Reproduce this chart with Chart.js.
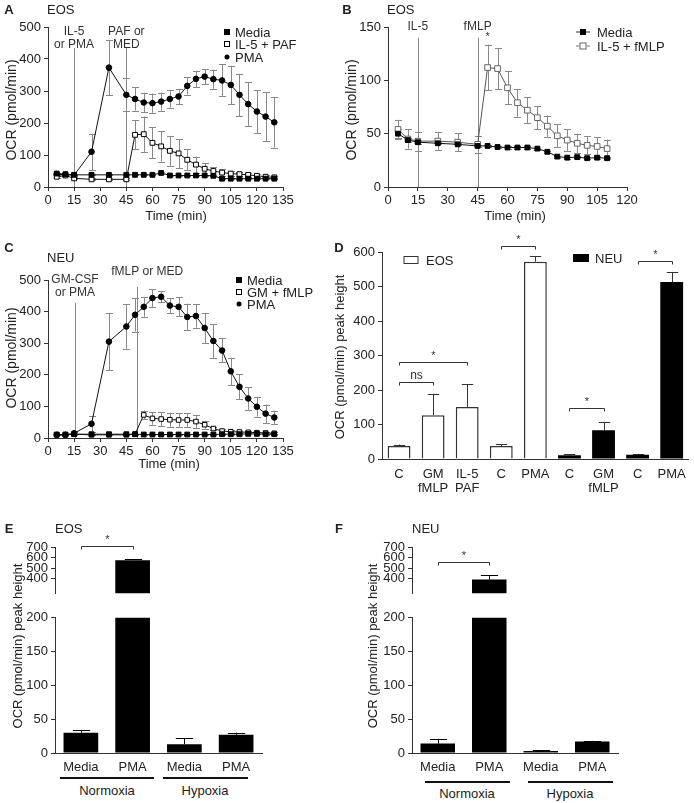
<!DOCTYPE html>
<html>
<head>
<meta charset="utf-8">
<script src="https://cdn.jsdelivr.net/npm/chart.js@4.4.1/dist/chart.umd.min.js"></script>
<style>
  body { margin: 0; background: #fff; }
  #fig { position: relative; width: 694px; height: 803px; overflow: hidden;
         font-family: "Liberation Sans", Arial, Helvetica, sans-serif; color: #222; }
  #fig canvas { position: absolute; }
  .t { position: absolute; font-size: 13px; line-height: 1; white-space: nowrap; transform: translate(-50%, -50%); }
  .l { transform: translate(0, -50%); }
  .b { font-weight: bold; }
  .yt { position: absolute; font-size: 14px; line-height: 14px; height: 14px; width: 200px; margin-left: -100px; margin-top: -7px;
        text-align: center; white-space: nowrap; transform: rotate(-90deg); }
  .m { position: absolute; box-sizing: border-box; transform: translate(-50%, -50%); }
  .fs { width: 6px; height: 6px; background: #000; }
  .os { width: 6px; height: 6px; border: 1px solid #000; background: #fff; }
  .gs { width: 7px; height: 7px; border: 1px solid #666; background: #fff; }
  .fc { width: 5px; height: 5px; border-radius: 50%; background: #000; }
  .ln { width: 14px; height: 1px; background: #333; }
  .bar { position: absolute; height: 2px; background: #111; }
</style>
</head>
<body>
<div id="fig">
  <canvas id="cA" width="300" height="210" style="left:0;top:0"></canvas>
  <canvas id="cB" width="290" height="210" style="left:350px;top:0"></canvas>
  <canvas id="cC" width="300" height="203" style="left:0;top:258px"></canvas>
  <canvas id="cD" width="354" height="275" style="left:340px;top:225px"></canvas>
  <canvas id="cEtop" width="275" height="84" style="left:0;top:520px"></canvas>
  <canvas id="cEbot" width="275" height="166" style="left:0;top:607px"></canvas>
  <canvas id="cFtop" width="280" height="84" style="left:352px;top:520px"></canvas>
  <canvas id="cFbot" width="280" height="166" style="left:352px;top:607px"></canvas>

  <!-- panel A -->
  <div class="t b" style="left:9px;top:9px">A</div>
  <div class="t l" style="left:47px;top:9px">EOS</div>
  <div class="yt" style="left:11px;top:110px">OCR (pmol/min)</div>
  <div class="t" style="left:176px;top:215px">Time (min)</div>
  <div class="m fs" style="left:227px;top:32px"></div><div class="t l" style="left:235px;top:32px">Media</div>
  <div class="m os" style="left:227px;top:44px"></div><div class="t l" style="left:235px;top:44px">IL-5 + PAF</div>
  <div class="m fc" style="left:227px;top:57px"></div><div class="t l" style="left:235px;top:57px">PMA</div>

  <!-- panel B -->
  <div class="t b" style="left:347px;top:9px">B</div>
  <div class="t l" style="left:387px;top:9px">EOS</div>
  <div class="yt" style="left:351px;top:110px">OCR (pmol/min)</div>
  <div class="t" style="left:515px;top:215px">Time (min)</div>
  <div class="m ln" style="left:583px;top:32px"></div><div class="m fs" style="left:583px;top:32px"></div>
  <div class="t l" style="left:597px;top:32px">Media</div>
  <div class="m ln" style="left:583px;top:46px;background:#777"></div><div class="m gs" style="left:583px;top:46px"></div>
  <div class="t l" style="left:597px;top:46px">IL-5 + fMLP</div>

  <!-- panel C -->
  <div class="t b" style="left:9px;top:247px">C</div>
  <div class="t l" style="left:47px;top:257px">NEU</div>
  <div class="yt" style="left:11px;top:358px">OCR (pmol/min)</div>
  <div class="t" style="left:169px;top:463px">Time (min)</div>
  <div class="m fs" style="left:239px;top:280px"></div><div class="t l" style="left:247px;top:280px">Media</div>
  <div class="m os" style="left:239px;top:292px"></div><div class="t l" style="left:247px;top:292px">GM + fMLP</div>
  <div class="m fc" style="left:239px;top:304px"></div><div class="t l" style="left:247px;top:304px">PMA</div>

  <!-- panel D -->
  <div class="t b" style="left:339px;top:247px">D</div>
  <div class="yt" style="left:340px;top:357px;font-size:13px">OCR (pmol/min) peak height</div>
  <div class="m" style="left:411px;top:260px;width:15px;height:8px;border:1px solid #333"></div>
  <div class="t l" style="left:426px;top:260px">EOS</div>
  <div class="m" style="left:581px;top:258px;width:16px;height:8px;background:#000"></div>
  <div class="t l" style="left:595px;top:258px">NEU</div>

  <!-- panel E -->
  <div class="t b" style="left:9px;top:528px">E</div>
  <div class="t l" style="left:55px;top:528px">EOS</div>
  <div class="yt" style="left:18px;top:646px;font-size:13px">OCR (pmol/min) peak height</div>
  <div class="bar" style="left:60px;top:777px;width:94px"></div>
  <div class="bar" style="left:163px;top:777px;width:85px"></div>
  <div class="t" style="left:107px;top:790px">Normoxia</div>
  <div class="t" style="left:205px;top:790px">Hypoxia</div>

  <!-- panel F -->
  <div class="t b" style="left:339px;top:528px">F</div>
  <div class="t l" style="left:412px;top:528px">NEU</div>
  <div class="yt" style="left:373px;top:646px;font-size:13px">OCR (pmol/min) peak height</div>
  <div class="bar" style="left:425px;top:781px;width:85px"></div>
  <div class="bar" style="left:528px;top:781px;width:85px"></div>
  <div class="t" style="left:467px;top:793px">Normoxia</div>
  <div class="t" style="left:570px;top:793px">Hypoxia</div>
</div>

<script>
  // ---- DATA ----
  // A: eosinophils, IL-5 / PMA then PAF
  const aTime = [5,10,15,25,35,45,50,55,60,65,70,75,80,85,90,95,100,105,110,115,120,125,130];
  const aMedia = [42,40,38,38,38,38,38,38,38,44,36,36,36,36,36,35,26,26,26,26,26,26,26];
  const aMediaErr = [3,2,2,2,2,2,2,2,2,2,2,2,2,2,2,2,2,2,2,2,2,2,2];
  const aPaf = [32,36,27,24,24,24,163,165,138,127,113,105,85,70,57,50,45,42,40,38,35,32,30];
  const aPafErr = [3,3,3,3,3,3,45,55,48,48,47,45,33,25,18,12,10,8,7,6,5,4,4];
  const aPma = [40,38,37,110,373,288,275,264,262,267,275,283,316,338,345,337,333,319,288,259,236,220,202];
  const aPmaErr = [2,2,2,57,86,52,36,31,30,28,27,24,27,25,23,30,50,60,66,68,67,76,79];

  // B: eosinophils, IL-5 then fMLP
  const bTime = [5,10,15,25,35,45,50,55,60,65,70,75,80,85,90,95,100,105,110];
  const bMedia = [50,44,42,41,40,38.5,38.5,37.5,37,37,37,36,33,28.5,27.5,28,27,27.5,27];
  const bMediaErr = [4,2,1.5,1,1,1,1,1,1,1,1,1,1,1,1,1,1,1,1];
  const bFmlp = [54,45,43,43,42,40,112,111,93,79,72,65,57,48,44,41,39,38,36];
  const bFmlpErr = [9,9,9,8.5,8.5,8,21.5,19.5,15.5,13,12,10.7,10,10.6,10,9,8.5,8.7,8.5];

  // C: neutrophils, GM-CSF / PMA then fMLP
  const cTime = [5,10,15,25,35,45,50,55,60,65,70,75,80,85,90,95,100,105,110,115,120,125,130];
  const cMedia = [11,11,12,12,12,12,12,11,11,11,11,11,11,11,11,11,12,12,12,13,13,12,12];
  const cMediaErr = [1,1,1,1,1,1,1,1,1,1,1,1,1,1,1,1,1,1,1,1,1,1,1];
  const cGm = [10,10,12,10,10,10,12,73,62,60,58,57,57,52,42,30,22,20,19,18,17,16,15];
  const cGmErr = [2,2,2,2,2,2,2,14,20,22,22,22,22,20,12,6,5,4,3,3,3,3,3];
  const cPma = [10,10,15,45,305,353,390,415,443,447,419,415,383,386,348,307,277,211,162,125,99,77,65];
  const cPmaErr = [2,2,3,25,90,70,53,31,28,18,23,30,42,37,47,53,38,43,39,36,31,29,22];

  // D: peak heights
  const dLabels = [['C'],['GM','fMLP'],['IL-5','PAF'],['C'],['PMA'],['C'],['GM','fMLP'],['C'],['PMA']];
  const dEos = [38,127,151,38,572,null,null,null,null];
  const dEosErr = [4,62,65,5,15,null,null,null,null];
  const dNeu = [null,null,null,null,null,11,83,12,513];
  const dNeuErr = [null,null,null,null,null,3,25,3,28];

  // E / F: normoxia vs hypoxia
  const hxLabels = ['Media','PMA','Media','PMA'];
  const eVals = [30,575,13,27];
  const eErr = [4,10,9,3];
  const fVals = [14,390,3,17];
  const fErr = [6,43,1,1];

  // ---- DEFAULTS ----
  Chart.defaults.font.family = '"Liberation Sans", Arial, Helvetica, sans-serif';
  Chart.defaults.font.size = 13;
  Chart.defaults.color = '#222';
  Chart.defaults.animation = false;
  Chart.defaults.plugins.legend.display = false;
  Chart.defaults.plugins.tooltip.enabled = false;

  // annotation config per canvas (vertical lines, text, brackets)
  const annots = {
    cA: {
      vlines: [{x: 15, y: 434}, {x: 45, y: 434}],
      texts: [
        {x: 15, y: 485, s: 'IL-5'}, {x: 15, y: 445, s: 'or PMA'},
        {x: 45, y: 485, s: 'PAF or'}, {x: 45, y: 445, s: 'MED'}
      ]
    },
    cB: {
      vlines: [{x: 15, y: 140}, {x: 45, y: 140}],
      texts: [{x: 15, y: 150, s: 'IL-5'}, {x: 45, y: 150, s: 'fMLP'}, {x: 50, y: 141, s: '*', size: 11}]
    },
    cC: {
      vlines: [{x: 15.5, y: 427}, {x: 51, y: 478}],
      texts: [
        {x: 15.5, y: 500, s: 'GM-CSF'}, {x: 15.5, y: 460, s: 'or PMA'},
        {x: 57, y: 525, s: 'fMLP or MED'}
      ]
    },
    cD: {
      brackets: [
        {a: 0, b: 2, y: 282, s: '*'}, {a: 0, b: 1, y: 223, s: 'ns'},
        {a: 3, b: 4, y: 618, s: '*'}, {a: 5, b: 6, y: 148, s: '*'}, {a: 7, b: 8, y: 574, s: '*'}
      ]
    },
    cEtop: { brackets: [{a: 0, b: 1, y: 710, s: '*'}] },
    cFtop: { brackets: [{a: 0, b: 1, y: 561, s: '*'}] }
  };

  // ---- PLUGIN: error bars + annotations ----
  const extras = {
    id: 'extras',
    beforeDatasetsDraw(chart) {
      const { ctx, chartArea: ca } = chart;
      const y = chart.scales.y, x = chart.scales.x;
      const an = annots[chart.canvas.id] || {};
      ctx.save();
      ctx.beginPath();
      ctx.rect(ca.left - 6, ca.top - 1, ca.right - ca.left + 12, ca.bottom - ca.top + 1);
      ctx.clip();
      ctx.lineWidth = 1;
      (an.vlines || []).forEach(v => {
        const px = Math.round(x.getPixelForValue(v.x)) + 0.5;
        ctx.strokeStyle = '#888';
        ctx.beginPath();
        ctx.moveTo(px, y.getPixelForValue(0));
        ctx.lineTo(px, y.getPixelForValue(v.y));
        ctx.stroke();
      });
      chart.data.datasets.forEach((ds, i) => {
        if (!ds.errs) return;
        const meta = chart.getDatasetMeta(i);
        ctx.strokeStyle = ds.errColor || '#000';
        meta.data.forEach((el, j) => {
          const raw = ds.data[j];
          const v = raw && typeof raw === 'object' ? raw.y : raw;
          const e = ds.errs[j];
          if (v == null || e == null) return;
          const px = Math.round(el.x) + 0.5;
          const hi = y.getPixelForValue(v + e);
          const lo = ds.errUp ? y.getPixelForValue(v) : y.getPixelForValue(v - e);
          const cw = ds.errUp ? el.width * 0.25 : 3.5;
          ctx.beginPath();
          ctx.moveTo(px, lo); ctx.lineTo(px, hi);
          ctx.moveTo(px - cw, Math.round(hi) + 0.5); ctx.lineTo(px + cw, Math.round(hi) + 0.5);
          if (!ds.errUp) { ctx.moveTo(px - cw, Math.round(lo) + 0.5); ctx.lineTo(px + cw, Math.round(lo) + 0.5); }
          ctx.stroke();
        });
      });
      ctx.restore();
    },
    afterDatasetsDraw(chart) {
      const { ctx } = chart;
      const y = chart.scales.y, x = chart.scales.x;
      const an = annots[chart.canvas.id] || {};
      ctx.save();
      ctx.textAlign = 'center';
      ctx.textBaseline = 'middle';
      (an.texts || []).forEach(t => {
        ctx.fillStyle = '#333';
        ctx.font = (t.size || 12) + 'px "Liberation Sans", Arial, sans-serif';
        ctx.fillText(t.s, x.getPixelForValue(t.x), y.getPixelForValue(t.y));
      });
      (an.brackets || []).forEach(b => {
        const x1 = Math.round(x.getPixelForValue(b.a)) + 0.5;
        const x2 = Math.round(x.getPixelForValue(b.b)) + 0.5;
        const py = Math.round(y.getPixelForValue(b.y)) + 0.5;
        ctx.strokeStyle = '#333';
        ctx.lineWidth = 1;
        ctx.beginPath();
        ctx.moveTo(x1, py + 3); ctx.lineTo(x1, py); ctx.lineTo(x2, py); ctx.lineTo(x2, py + 3);
        ctx.stroke();
        ctx.fillStyle = '#333';
        ctx.font = (b.s === 'ns' ? 12 : 11) + 'px "Liberation Sans", Arial, sans-serif';
        ctx.fillText(b.s, (x1 + x2) / 2, py - 7);
      });
      ctx.restore();
    }
  };
  Chart.register(extras);

  // ---- AXIS HELPERS ----
  function yAxis(min, max, step, w) {
    return {
      type: 'linear', min, max,
      ticks: { stepSize: step, padding: 3, color: '#222' },
      grid: { drawOnChartArea: false, tickLength: 4, color: '#333' },
      border: { color: '#333', width: 1 },
      afterFit: s => { s.width = w; }
    };
  }
  function xTime(max, h) {
    return {
      type: 'linear', min: 0, max,
      ticks: { stepSize: 15, autoSkip: false, maxRotation: 0, padding: 2, color: '#222' },
      grid: { drawOnChartArea: false, tickLength: 4, color: '#333' },
      border: { color: '#333', width: 1 },
      afterFit: s => { s.height = h; }
    };
  }
  function xCat(h, pad) {
    return {
      type: 'category',
      ticks: { autoSkip: false, maxRotation: 0, padding: pad, color: '#222', font: { lineHeight: 1.1 } },
      grid: { display: true, drawOnChartArea: false, drawTicks: false, color: '#333' },
      border: { color: '#333', width: 1 },
      afterFit: s => { s.height = h; }
    };
  }
  function series(xs, ys, errs, style) {
    return Object.assign({
      data: xs.map((t, i) => ({ x: t, y: ys[i] })),
      errs, errColor: '#888', showLine: true, borderWidth: 1, pointBorderWidth: 1,
      borderColor: '#111', pointBorderColor: '#000', pointBackgroundColor: '#000'
    }, style);
  }

  // ---- A ----
  new Chart(document.getElementById('cA'), {
    type: 'scatter',
    data: { datasets: [
      series(aTime, aMedia, aMediaErr, { pointStyle: 'rect', pointRadius: 3.4 }),
      series(aTime, aPaf, aPafErr, { pointStyle: 'rect', pointRadius: 3.4, pointBackgroundColor: '#fff' }),
      series(aTime, aPma, aPmaErr, { pointStyle: 'circle', pointRadius: 2.8 })
    ]},
    options: {
      responsive: false,
      layout: { padding: { top: 27, right: 17, left: 0, bottom: 0 } },
      scales: { x: xTime(135, 23), y: yAxis(0, 500, 100, 48) }
    }
  });

  // ---- B ----
  new Chart(document.getElementById('cB'), {
    type: 'scatter',
    data: { datasets: [
      series(bTime, bMedia, bMediaErr, { pointStyle: 'rect', pointRadius: 3.4 }),
      series(bTime, bFmlp, bFmlpErr, { pointStyle: 'rect', pointRadius: 4, pointBackgroundColor: '#fff',
        pointBorderColor: '#666', borderColor: '#555' })
    ]},
    options: {
      responsive: false,
      layout: { padding: { top: 27, right: 13, left: 0, bottom: 0 } },
      scales: { x: xTime(120, 23), y: yAxis(0, 150, 50, 38) }
    }
  });

  // ---- C ----
  new Chart(document.getElementById('cC'), {
    type: 'scatter',
    data: { datasets: [
      series(cTime, cMedia, cMediaErr, { pointStyle: 'rect', pointRadius: 3.4 }),
      series(cTime, cGm, cGmErr, { pointStyle: 'rect', pointRadius: 3.2, pointBackgroundColor: '#fff' }),
      series(cTime, cPma, cPmaErr, { pointStyle: 'circle', pointRadius: 2.8 })
    ]},
    options: {
      responsive: false,
      layout: { padding: { top: 22, right: 17, left: 0, bottom: 0 } },
      scales: { x: xTime(135, 23), y: yAxis(0, 500, 100, 48) }
    }
  });

  // ---- D ----
  new Chart(document.getElementById('cD'), {
    type: 'bar',
    data: {
      labels: dLabels,
      datasets: [
        { data: dEos, errs: dEosErr, errUp: true, errColor: '#333', backgroundColor: '#fff',
          borderColor: '#333', borderWidth: 1.5, barPercentage: 0.67, categoryPercentage: 1, clip: 0 },
        { data: dNeu, errs: dNeuErr, errUp: true, errColor: '#333', backgroundColor: '#000',
          borderColor: '#000', borderWidth: 0, barPercentage: 0.67, categoryPercentage: 1, clip: 0 }
      ]
    },
    options: {
      responsive: false,
      datasets: { bar: { grouped: false } },
      layout: { padding: { top: 27, right: 4, left: 0, bottom: 0 } },
      scales: { x: xCat(41, 8), y: yAxis(0, 600, 100, 42) }
    }
  });

  // ---- E / F (broken axis: upper and lower segment) ----
  function brokenPanel(idTop, idBot, vals, errs, yW, padR) {
    const ds = () => ({ data: vals, errs, errUp: true, errColor: '#000', backgroundColor: '#000',
      borderWidth: 0, barPercentage: 0.67, categoryPercentage: 1, clip: 0 });
    const top = yAxis(260, 700, 100, yW);
    top.afterBuildTicks = s => { s.ticks = s.ticks.filter(t => t.value % 100 === 0); };
    new Chart(document.getElementById(idTop), {
      type: 'bar',
      data: { labels: hxLabels, datasets: [ds()] },
      options: {
        responsive: false,
        layout: { padding: { top: 27, right: padR, left: 0, bottom: 0 } },
        scales: { x: { type: 'category', display: false }, y: top }
      }
    });
    new Chart(document.getElementById(idBot), {
      type: 'bar',
      data: { labels: hxLabels, datasets: [ds()] },
      options: {
        responsive: false,
        layout: { padding: { top: 10, right: padR, left: 0, bottom: 0 } },
        scales: { x: xCat(20, 7), y: yAxis(0, 200, 50, yW) }
      }
    });
  }
  brokenPanel('cEtop', 'cEbot', eVals, eErr, 55, 13);
  brokenPanel('cFtop', 'cFbot', fVals, fErr, 60, 14);
</script>
</body>
</html>
